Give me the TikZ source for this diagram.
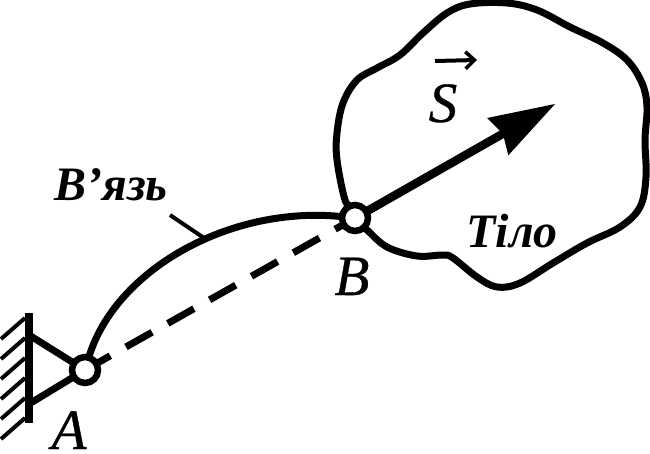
\documentclass[tikz,border=0pt]{standalone}
\usepackage{fontspec}
\setmainfont{Liberation Serif}
\newfontfamily\letterfont[ItalicFeatures={FakeBold=0.6}]{Liberation Serif}
\usetikzlibrary{arrows.meta}
\tikzset{
  hinge/.style={circle,draw=black,fill=white,line width=6.5pt,minimum size=26pt,inner sep=0pt,outer sep=0pt},
  bond/.style={line width=7pt,line join=round},
  wall/.style={line width=8pt},
  hatch/.style={line width=4pt},
  leader/.style={line width=4pt},
  letter/.style={anchor=base,inner sep=0pt,font=\fontsize{57}{60}\letterfont\itshape},
  caption/.style={anchor=base,inner sep=0pt,font=\fontsize{48}{52}\selectfont\bfseries\itshape},
  force/.style={line width=8.5pt,-{Stealth[length=66pt,width=43pt,inset=6pt,line width=0pt]}},
  vecmark/.style={line width=4pt,-{Straight Barb[length=9pt,width=17pt,line width=3.5pt]}}
}
\begin{document}
\begin{tikzpicture}[x=1pt,y=-1pt]
\useasboundingbox (0,0) rectangle (650,453);
% hinges
\node[hinge] (A) at (85,370) {};
\node[hinge] (B) at (355,218) {};
\coordinate (wallT) at (29,313);
\coordinate (wallB) at (29,423);
\coordinate (triT) at (29,335);
\coordinate (triB) at (29,404);
\coordinate (tip) at (555,104);
\coordinate (leadS) at (170,215);
\coordinate (leadE) at (204,238);
\coordinate (vecL) at (435,61);
\coordinate (vecR) at (477,60);
% support
\draw[wall] (wallT) -- (wallB);
\foreach \yy in {318,338,358,378,398,418}
  \draw[hatch] (25,\yy) -- (1,\yy+21);
\draw[bond] (triT) -- (A);
\draw[bond] (triB) -- (A);
% bond and chord
\draw[bond] (A) .. controls (115,270) and (230,205) .. (B);
\draw[bond,dash pattern=on 30pt off 18pt,dash phase=14pt] (A) -- (B);
\draw[leader] (leadS) -- (leadE);
% body
\draw[bond] plot[smooth,tension=0.6] coordinates {
 (B.105) (345,200) (337,160) (337,133) (343,103) (357,80) (377,68) (400,55) (423,33)
 (447,13) (470,4) (507,3) (537,10) (570,27) (603,43) (627,60) (642,83) (647,107)
 (645,140) (646,177) (640,207) (620,227) (587,243) (553,263) (520,283) (497,287)
 (477,277) (453,258) (443,255) (417,256) (387,247) (367,230) (B.-50)};
% force
\draw[force] (B) -- (tip);
\draw[vecmark] (vecL) -- (vecR);
% labels
\node[letter] (la) at (69,449) {A};
\node[letter] (lb) at (352,295) {B};
\node[letter] (ls) at (443,122) {S};
\node[caption] (lt) at (512,247) {Тіло};
\node[caption] (lv) at (111,200) {В’язь};
\end{tikzpicture}
\end{document}
